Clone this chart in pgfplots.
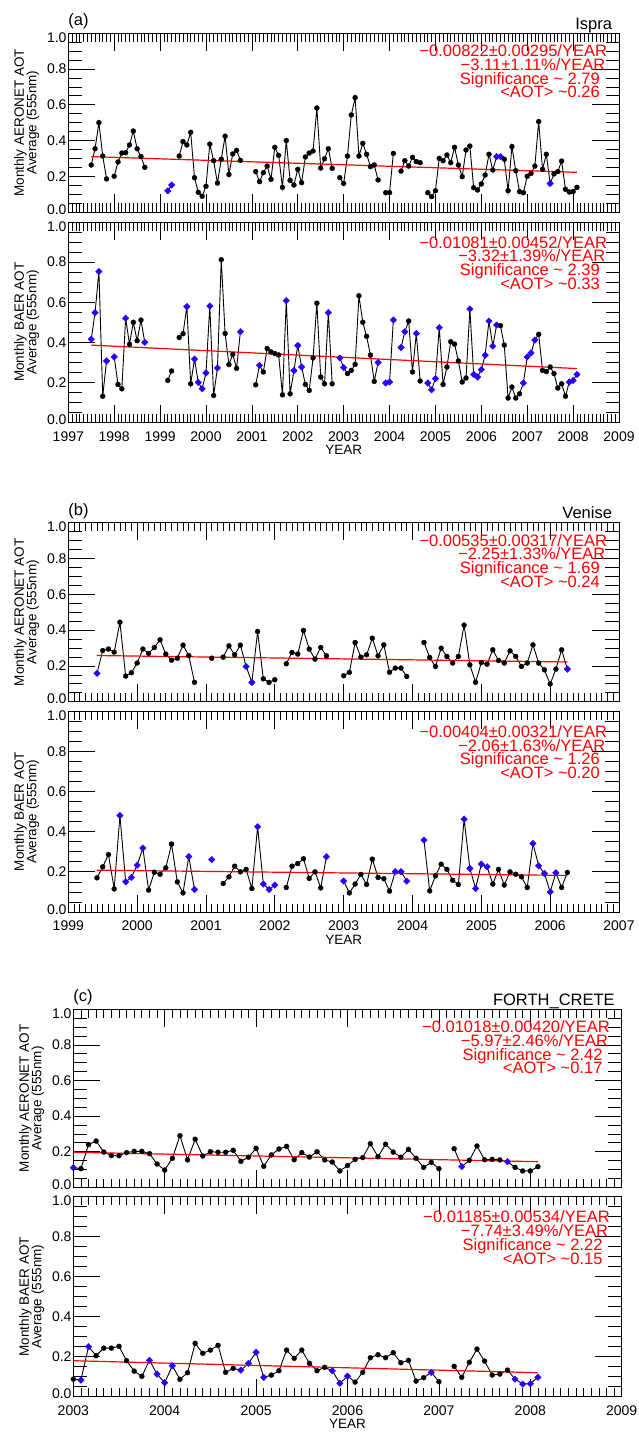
\documentclass[border=0pt]{standalone}
\usepackage{fontspec}
\setmainfont{Liberation Sans}
\usepackage{pgfplots}
\usepackage{pgfplotstable}
\pgfplotsset{compat=1.18}
\definecolor{mblue}{RGB}{40,0,255}
\definecolor{mred}{RGB}{255,0,0}
\pgfdeclareplotmark{bdiam}{%
  \pgfpathmoveto{\pgfqpoint{0pt}{\pgfplotmarksize}}%
  \pgfpathlineto{\pgfqpoint{\pgfplotmarksize}{0pt}}%
  \pgfpathlineto{\pgfqpoint{0pt}{-\pgfplotmarksize}}%
  \pgfpathlineto{\pgfqpoint{-\pgfplotmarksize}{0pt}}%
  \pgfpathclose\pgfusepathqfillstroke}

% months counted from January of the first year on the axis; c: k = black dot, b = blue diamond
\pgfplotstableread{
x y c
6 0.263 k
7 0.354 k
8 0.500 k
9 0.313 k
10 0.185 k
11 nan k
12 0.200 k
13 0.280 k
14 0.330 k
15 0.332 k
16 0.375 k
17 0.453 k
18 0.354 k
19 0.310 k
20 0.250 k
21 nan k
26 0.118 b
27 0.151 b
28 nan k
29 0.313 k
30 0.394 k
31 0.375 k
32 0.446 k
33 0.192 k
34 0.110 k
35 0.088 k
36 0.144 k
37 0.380 k
38 0.287 k
39 0.162 k
40 0.295 k
41 0.424 k
42 0.210 k
43 0.325 k
44 0.345 k
45 0.289 k
46 nan k
49 0.226 k
50 0.170 k
51 0.220 k
52 0.257 k
53 0.183 k
54 0.362 k
55 0.317 k
56 0.138 k
57 0.400 k
58 0.177 k
59 0.151 k
60 0.239 k
61 0.164 k
62 0.308 k
63 0.330 k
64 0.341 k
65 0.582 k
66 0.246 k
67 0.298 k
68 0.354 k
69 0.244 k
70 nan k
71 0.192 k
72 0.160 k
73 0.313 k
74 0.543 k
75 0.640 k
76 0.313 k
77 0.384 k
78 0.323 k
79 0.254 k
80 0.263 k
81 0.179 k
82 nan k
83 0.108 k
84 0.108 k
85 0.328 k
86 nan k
87 0.229 k
88 0.287 k
89 0.257 k
90 0.306 k
91 0.282 k
92 0.276 k
93 nan k
94 0.108 k
95 0.086 k
96 0.119 k
97 0.300 k
98 0.287 k
99 0.319 k
100 0.276 k
101 0.362 k
102 0.263 k
103 0.198 k
104 0.347 k
105 0.369 k
106 0.136 k
107 0.123 k
108 0.157 k
109 0.207 k
110 0.323 k
111 0.235 k
112 0.310 b
113 0.310 b
114 0.295 k
115 0.119 k
116 0.366 k
117 0.231 k
118 0.114 k
119 0.108 k
120 0.200 k
121 0.216 k
122 0.257 k
123 0.506 k
124 0.239 k
125 0.323 k
126 0.160 b
127 0.213 k
128 0.226 k
129 0.285 k
130 0.127 k
131 0.112 k
132 0.114 k
133 0.138 k
}\aone

\pgfplotstableread{
x y c
6 0.416 b
7 0.548 b
8 0.753 b
9 0.131 k
10 0.307 b
11 nan k
12 0.327 b
13 0.190 k
14 0.168 k
15 0.520 b
16 0.390 k
17 0.500 k
18 0.408 k
19 0.511 k
20 0.400 b
21 nan k
26 0.210 k
27 0.257 k
28 nan k
29 0.424 k
30 0.443 k
31 0.578 b
32 0.193 k
33 0.316 b
34 0.200 b
35 0.168 b
36 0.247 b
37 0.581 b
38 0.135 k
39 0.272 b
40 0.812 k
41 0.444 k
42 0.289 k
43 0.340 k
44 0.270 k
45 0.453 b
46 nan k
49 0.188 k
50 0.285 b
51 0.252 k
52 0.369 k
53 0.352 k
54 0.344 k
55 0.337 k
56 0.138 k
57 0.608 b
58 0.143 k
59 0.259 b
60 0.384 b
61 0.277 b
62 0.190 k
63 0.160 k
64 0.322 k
65 0.595 k
66 0.227 k
67 0.193 k
68 0.548 b
69 0.193 k
70 nan k
71 0.322 b
72 0.274 b
73 0.244 k
74 0.260 k
75 0.290 k
76 0.632 k
77 0.500 k
78 0.430 k
79 0.336 k
80 0.205 k
81 0.299 b
82 nan k
83 0.197 b
84 0.202 b
85 0.511 b
86 nan k
87 0.374 b
88 0.453 b
89 0.506 k
90 0.252 k
91 0.444 b
92 0.207 k
93 nan k
94 0.197 b
95 0.163 b
96 0.219 b
97 0.473 b
98 0.190 k
99 0.277 k
100 0.403 k
101 0.391 k
102 0.307 k
103 0.202 k
104 0.222 k
105 0.566 b
106 0.240 b
107 0.227 b
108 0.264 b
109 0.336 b
110 0.506 b
111 0.381 b
112 0.486 b
113 0.483 k
114 0.386 k
115 0.122 k
116 0.177 k
117 0.122 k
118 0.143 k
119 0.197 b
120 0.327 b
121 0.347 b
122 0.411 b
123 0.440 k
124 0.260 k
125 0.254 k
126 0.277 k
127 0.244 k
128 0.172 k
129 0.193 k
130 0.131 k
131 0.202 b
132 0.210 b
133 0.240 b
}\atwo

\pgfplotstableread{
x y c
5 0.158 b
6 0.286 k
7 0.294 k
8 0.277 k
9 0.444 k
10 0.143 k
11 0.162 k
12 0.216 k
13 0.294 k
14 0.270 k
15 0.303 k
16 0.346 k
17 0.266 k
18 0.232 k
19 0.243 k
20 0.316 k
21 0.258 k
22 0.108 k
23 nan k
25 0.243 k
26 nan k
27 0.249 k
28 0.312 k
29 0.262 k
30 0.316 k
31 0.197 b
32 0.108 b
33 0.392 k
34 0.128 k
35 0.108 k
36 0.123 k
37 nan k
38 0.212 k
39 0.275 k
40 0.266 k
41 0.398 k
42 0.294 k
43 0.238 k
44 0.303 k
45 0.256 k
46 nan k
48 0.145 k
49 0.164 k
50 0.331 k
51 0.249 k
52 0.262 k
53 0.355 k
54 0.256 k
55 0.318 k
56 0.165 k
57 0.188 k
58 0.188 k
59 0.141 k
60 nan k
62 0.331 k
63 0.247 k
64 0.197 k
65 0.299 k
66 0.253 k
67 0.216 k
68 0.253 k
69 0.428 k
70 0.206 k
71 0.108 k
72 0.219 k
73 0.210 k
74 0.290 k
75 0.230 k
76 0.216 k
77 0.284 k
78 0.253 k
79 0.197 k
80 0.216 k
81 0.318 k
82 0.216 k
83 0.178 k
84 0.099 k
85 0.182 k
86 0.290 k
87 0.182 b
}\bone

\pgfplotstableread{
x y c
5 0.170 k
6 0.225 k
7 0.286 k
8 0.115 k
9 0.480 b
10 0.150 b
11 0.172 b
12 0.233 b
13 0.318 b
14 0.109 k
15 0.198 k
16 0.188 k
17 0.220 k
18 0.338 k
19 0.150 k
20 0.095 k
21 0.276 b
22 0.112 b
23 nan k
25 0.261 b
26 nan k
27 0.142 k
28 0.175 k
29 0.228 k
30 0.200 k
31 0.212 k
32 0.117 k
33 0.424 b
34 0.139 b
35 0.112 b
36 0.134 b
37 nan k
38 0.122 k
39 0.228 k
40 0.241 k
41 0.265 k
42 0.167 k
43 0.200 k
44 0.120 k
45 0.275 b
46 nan k
48 0.154 b
49 0.095 k
50 0.139 k
51 0.187 k
52 0.137 k
53 0.263 k
54 0.172 k
55 0.166 k
56 0.104 k
57 0.201 b
58 0.201 b
59 0.154 b
60 nan k
62 0.358 b
63 0.105 k
64 0.180 k
65 0.238 k
66 0.212 k
67 0.158 k
68 0.137 k
69 0.462 b
70 0.217 b
71 0.117 b
72 0.238 b
73 0.225 b
74 0.139 k
75 0.212 k
76 0.134 k
77 0.200 k
78 0.188 k
79 0.175 k
80 0.122 k
81 0.341 b
82 0.230 b
83 0.192 b
84 0.100 b
85 0.195 b
86 0.122 k
87 0.197 k
}\btwo

\pgfplotstableread{
x y c
0 0.110 b
1 0.105 k
2 0.240 k
3 0.260 k
4 0.198 k
5 0.178 k
6 0.178 k
7 0.195 k
8 0.202 k
9 0.202 k
10 0.189 k
11 0.131 k
12 0.097 k
13 0.163 k
14 0.290 k
15 0.154 k
16 0.270 k
17 0.176 k
18 0.200 k
19 0.197 k
20 0.197 k
21 0.208 k
22 0.146 k
23 0.169 k
24 0.219 k
25 0.118 k
26 0.182 k
27 0.215 k
28 0.230 k
29 0.155 k
30 0.195 k
31 0.170 k
32 0.200 k
33 0.154 k
34 0.142 k
35 0.092 k
36 0.122 k
37 0.157 k
38 0.167 k
39 0.245 k
40 0.172 k
41 0.242 k
42 0.198 k
43 0.169 k
44 0.213 k
45 0.163 k
46 0.112 k
47 0.140 k
48 0.105 k
49 nan k
50 0.217 k
51 0.116 b
52 0.152 k
53 0.232 k
54 0.155 k
55 0.157 k
56 0.154 k
57 0.144 b
58 0.112 k
59 0.092 k
60 0.092 k
61 0.116 k
}\cone

\pgfplotstableread{
x y c
0 0.088 k
1 0.083 b
2 0.250 b
3 0.205 k
4 0.243 k
5 0.243 k
6 0.252 k
7 0.180 k
8 0.128 k
9 0.102 k
10 0.182 b
11 0.113 b
12 0.070 b
13 0.155 b
14 0.087 k
15 0.120 k
16 0.267 k
17 0.217 k
18 0.233 k
19 0.257 k
20 0.122 k
21 0.142 k
22 0.133 b
23 0.167 b
24 0.222 b
25 0.097 b
26 0.108 k
27 0.130 k
28 0.233 k
29 0.192 k
30 0.233 k
31 0.167 k
32 0.130 k
33 0.147 k
34 0.130 b
35 0.067 b
36 0.103 b
37 0.073 k
38 0.122 k
39 0.195 k
40 0.210 k
41 0.195 k
42 0.220 k
43 0.170 k
44 0.182 k
45 0.078 k
46 0.095 k
47 0.122 b
48 0.075 k
49 nan k
50 0.152 k
51 0.097 k
52 0.172 k
53 0.238 k
54 0.178 k
55 0.108 k
56 0.113 k
57 0.133 k
58 0.088 b
59 0.063 b
60 0.065 b
61 0.097 b
}\ctwo

\pgfplotsset{
  panel/.style={
    scale only axis, anchor=north west, clip=false,
    ymin=0, ymax=1,
    ytick={0,0.2,0.4,0.6,0.8,1},
    yticklabels={\raisebox{-2pt}[0pt][0pt]{0.0},0.2,0.4,0.6,0.8,\raisebox{-9pt}[0pt][0pt]{1.0}},
    minor y tick num=3,
    minor x tick num=11,
    xtick pos=both, ytick pos=both,
    xticklabel pos=lower, yticklabel pos=left,
    tick align=inside,
    axis line style={black, line width=1pt},
    every tick/.style={black, line width=0.7pt},
    xtick style={/pgfplots/major tick length=17.5pt,/pgfplots/minor tick length=8.5pt},
    ytick style={/pgfplots/major tick length=27pt,/pgfplots/minor tick length=13.5pt},
    tick label style={font=\fontsize{14}{16}\selectfont, black},
    yticklabel style={anchor=east, inner sep=0pt, xshift=-1.6pt},
    xticklabel style={anchor=north, inner sep=0pt, yshift=-9pt},
    label style={font=\fontsize{13.5}{12.7}\selectfont},
    ylabel style={at={(axis description cs:0,0.5)}, anchor=south, inner sep=0pt, yshift=28.8pt, align=center},
    xlabel style={at={(axis description cs:0.5,0)}, anchor=north, inner sep=0pt, yshift=-22.5pt},
    unbounded coords=jump,
  },
  data/.style={black, line width=0.9pt, scatter, scatter src=explicit symbolic,
    scatter/classes={k={mark=*, mark size=2.5pt, black, line width=0.3pt},
                     b={mark=bdiam, mark size=3.3pt, mblue, line width=0.3pt}}},
  trend/.style={mred, line width=1.2pt, mark=none},
}
\tikzset{
  redtxt/.style={anchor=base east, inner sep=0pt, text=mred, font=\fontsize{16.5}{16}\selectfont},
  sttxt/.style={anchor=base east, inner sep=0pt, font=\fontsize{16.5}{16}\selectfont, xshift=-6.8pt, yshift=4.2pt},
  pltxt/.style={anchor=base west, inner sep=0pt, font=\fontsize{16.5}{16}\selectfont, yshift=7.4pt},
}
\newcommand\redlines[4]{%
  \node[redtxt, xshift=-11.8pt] at (rel axis cs:1,0.869) {#1};
  \node[redtxt, xshift=-13.4pt, yshift=-13.7pt] at (rel axis cs:1,0.869) {#2};
  \node[redtxt, xshift=-19pt, yshift=-27.4pt] at (rel axis cs:1,0.869) {#3};
  \node[redtxt, xshift=-19pt, yshift=-41.1pt] at (rel axis cs:1,0.869) {#4};
}

\begin{document}
\begin{tikzpicture}
\useasboundingbox[fill=white] (0pt,0pt) rectangle (638pt,-1432pt);

% ---------------- (a) Ispra
\begin{axis}[panel, at={(68.3pt,-33.3pt)}, width=550.7pt, height=178.7pt,
  xmin=0, xmax=144, xtick={0,12,...,144}, xticklabels={},
  ylabel={Monthly AERONET AOT\\Average (555nm)}]
\addplot[data] table[x=x, y=y, meta=c] {\aone};
\addplot[trend] coordinates {(6,0.310) (133,0.222)};
\redlines{−0.00822±0.00295/YEAR}{−3.11±1.11\%/YEAR}{Significance \textasciitilde{} 2.79}{<AOT> \textasciitilde0.26}
\node[sttxt] at (rel axis cs:1,1) {Ispra};
\node[pltxt] at (rel axis cs:0,1) {(a)};
\end{axis}

\begin{axis}[panel, at={(68.3pt,-222pt)}, width=550.7pt, height=200.5pt,
  xmin=0, xmax=144, xtick={0,12,...,144},
  xticklabels={1997,1998,1999,2000,2001,2002,2003,2004,2005,2006,2007,2008,2009},
  xlabel={YEAR}, ylabel={Monthly BAER AOT\\Average (555nm)}]
\addplot[data] table[x=x, y=y, meta=c] {\atwo};
\addplot[trend] coordinates {(6,0.386) (133,0.269)};
\redlines{−0.01081±0.00452/YEAR}{−3.32±1.39\%/YEAR}{Significance \textasciitilde{} 2.39}{<AOT> \textasciitilde0.33}
\end{axis}

% ---------------- (b) Venise
\begin{axis}[panel, at={(68.3pt,-522.7pt)}, width=550.7pt, height=179pt,
  xmin=0, xmax=96, xtick={0,12,...,96}, xticklabels={},
  ylabel={Monthly AERONET AOT\\Average (555nm)}]
\addplot[data] table[x=x, y=y, meta=c] {\bone};
\addplot[trend] coordinates {(5,0.258) (87,0.222)};
\redlines{−0.00535±0.00317/YEAR}{−2.25±1.33\%/YEAR}{Significance \textasciitilde{} 1.69}{<AOT> \textasciitilde0.24}
\node[sttxt] at (rel axis cs:1,1) {Venise};
\node[pltxt] at (rel axis cs:0,1) {(b)};
\end{axis}

\begin{axis}[panel, at={(68.3pt,-711pt)}, width=550.7pt, height=201pt,
  xmin=0, xmax=96, xtick={0,12,...,96},
  xticklabels={1999,2000,2001,2002,2003,2004,2005,2006,2007},
  xlabel={YEAR}, ylabel={Monthly BAER AOT\\Average (555nm)}]
\addplot[data] table[x=x, y=y, meta=c] {\btwo};
\addplot[trend] coordinates {(5,0.208) (87,0.182)};
\redlines{−0.00404±0.00321/YEAR}{−2.06±1.63\%/YEAR}{Significance \textasciitilde{} 1.26}{<AOT> \textasciitilde0.20}
\end{axis}

% ---------------- (c) FORTH_CRETE
\begin{axis}[panel, at={(73.3pt,-1009.3pt)}, width=548.4pt, height=178pt,
  xmin=0, xmax=72, xtick={0,12,...,72}, xticklabels={},
  ylabel={Monthly AERONET AOT\\Average (555nm)}]
\addplot[data] table[x=x, y=y, meta=c] {\cone};
\addplot[trend] coordinates {(0,0.197) (61,0.144)};
\redlines{−0.01018±0.00420/YEAR}{−5.97±2.46\%/YEAR}{Significance \textasciitilde{} 2.42}{<AOT> \textasciitilde0.17}
\node[sttxt] at (rel axis cs:1,1) {FORTH\_CRETE};
\node[pltxt] at (rel axis cs:0,1) {(c)};
\end{axis}

\begin{axis}[panel, at={(73.3pt,-1196.7pt)}, width=548.4pt, height=200pt,
  xmin=0, xmax=72, xtick={0,12,...,72},
  xticklabels={2003,2004,2005,2006,2007,2008,2009},
  xlabel={YEAR}, ylabel={Monthly BAER AOT\\Average (555nm)}]
\addplot[data] table[x=x, y=y, meta=c] {\ctwo};
\addplot[trend] coordinates {(0,0.180) (61,0.120)};
\redlines{−0.01185±0.00534/YEAR}{−7.74±3.49\%/YEAR}{Significance \textasciitilde{} 2.22}{<AOT> \textasciitilde0.15}
\end{axis}
\end{tikzpicture}
\end{document}
